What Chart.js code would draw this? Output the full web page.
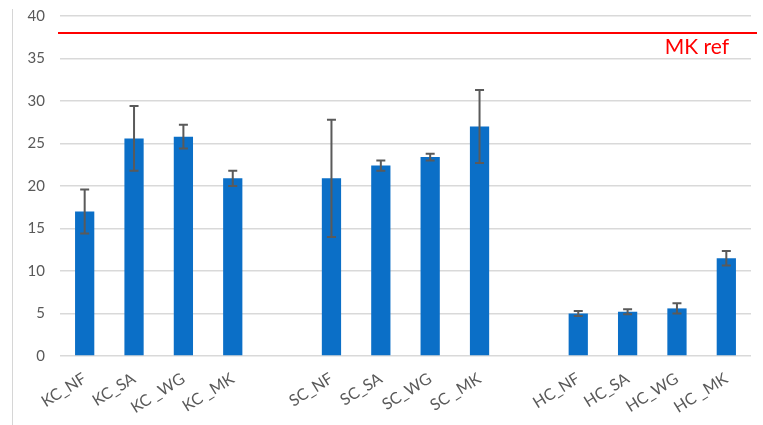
<!DOCTYPE html>
<html>
<head>
<meta charset="utf-8">
<script src="https://cdn.jsdelivr.net/npm/chart.js@4/dist/chart.umd.min.js"></script>
<style>
  html, body { margin: 0; padding: 0; background: #fff; }
  #wrap { position: relative; width: 763px; height: 425px; }
  #edge { position: absolute; left: 12px; top: 9px; bottom: 0; width: 1px; background: #d6d6d6; }
  canvas { position: absolute; left: 0; top: 0; }
</style>
</head>
<body>
<div id="wrap">
  <canvas id="c" width="763" height="425"></canvas>
  <div id="edge"></div>
</div>
<script>
// Sample groups (an empty slot separates each group on the axis)
const kcLabels = ['KC_NF', 'KC_SA', 'KC _WG', 'KC _MK'];
const scLabels = ['SC_NF', 'SC_SA', 'SC_WG', 'SC _MK'];
const hcLabels = ['HC_NF', 'HC_SA', 'HC_WG', 'HC _MK'];

// Mean values per group
const kcMeans = [17.0, 25.6, 25.8, 20.9];
const scMeans = [20.9, 22.4, 23.4, 27.0];
const hcMeans = [5.0, 5.2, 5.6, 11.5];

// Error bar half-widths (±)
const kcErrors = [2.6, 3.8, 1.4, 0.9];
const scErrors = [6.9, 0.6, 0.4, 4.3];
const hcErrors = [0.3, 0.3, 0.6, 0.85];

// Reference level
const refValue = 38;
const refLabel = 'MK ref';

// Y-axis ticks
const yMin = 0, yMax = 40, yStep = 5;

const labels = [...kcLabels, '', ...scLabels, '', ...hcLabels];
const means = [...kcMeans, null, ...scMeans, null, ...hcMeans];
const errors = [...kcErrors, null, ...scErrors, null, ...hcErrors];

const FONT = 'Lato, "Open Sans", sans-serif';
const GREY = '#595959';

const errorBars = {
  id: 'errorBars',
  afterDatasetsDraw(chart) {
    const ctx = chart.ctx;
    const y = chart.scales.y;
    const meta = chart.getDatasetMeta(0);
    ctx.save();
    ctx.strokeStyle = '#5a5a5a';
    ctx.lineWidth = 2;
    meta.data.forEach((bar, i) => {
      if (means[i] == null) return;
      const x = bar.x;
      const top = y.getPixelForValue(means[i] + errors[i]);
      const bot = y.getPixelForValue(means[i] - errors[i]);
      const cap = 4.5;
      ctx.beginPath();
      ctx.moveTo(x, top); ctx.lineTo(x, bot);
      ctx.moveTo(x - cap, top); ctx.lineTo(x + cap, top);
      ctx.moveTo(x - cap, bot); ctx.lineTo(x + cap, bot);
      ctx.stroke();
    });
    ctx.restore();
  }
};

const refLine = {
  id: 'refLine',
  afterDatasetsDraw(chart) {
    const ctx = chart.ctx;
    const area = chart.chartArea;
    const yp = chart.scales.y.getPixelForValue(refValue);
    ctx.save();
    ctx.strokeStyle = '#ff0000';
    ctx.lineWidth = 2;
    ctx.beginPath();
    ctx.moveTo(area.left - 2, yp);
    ctx.lineTo(area.right + 6, yp);
    ctx.stroke();
    ctx.fillStyle = '#ff0000';
    ctx.font = '21px ' + FONT;
    ctx.textAlign = 'right';
    ctx.textBaseline = 'alphabetic';
    ctx.fillText(refLabel, area.right - 22, yp + 21);
    ctx.restore();
  }
};

new Chart(document.getElementById('c'), {
  type: 'bar',
  data: {
    labels: labels,
    datasets: [{
      data: means,
      backgroundColor: '#0b6fc7',
      borderWidth: 0,
      categoryPercentage: 1.0,
      barPercentage: 0.39
    }]
  },
  options: {
    responsive: false,
    animation: false,
    layout: { padding: { top: 16, right: 12, left: 0, bottom: 0 } },
    plugins: { legend: { display: false }, tooltip: { enabled: false } },
    scales: {
      x: {
        grid: { display: false, drawTicks: false },
        border: { display: false },
        ticks: {
          color: GREY,
          font: { family: FONT, size: 16 },
          minRotation: 32,
          maxRotation: 32,
          autoSkip: false,
          padding: 13
        },
        afterFit(s) { s.height = 69; }
      },
      y: {
        min: yMin,
        max: yMax,
        grid: { color: '#d9d9d9', lineWidth: 1.5, drawTicks: false },
        border: { display: false },
        ticks: {
          stepSize: yStep,
          color: GREY,
          font: { family: FONT, size: 15 },
          padding: 15
        },
        afterFit(s) {
          s.width = 60;
          s.paddingTop = 0;
          s.paddingBottom = 0;
        }
      }
    }
  },
  plugins: [errorBars, refLine]
});
</script>
</body>
</html>
